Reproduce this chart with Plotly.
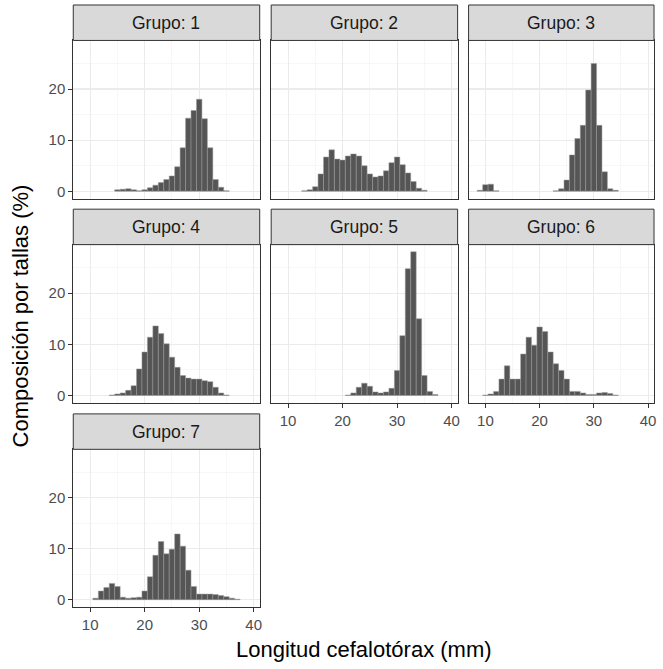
import plotly.graph_objects as go

# Bin centres (mm), 1 mm bins
tallas = [9, 10, 11, 12, 13, 14, 15, 16, 17, 18, 19, 20, 21, 22, 23,
          24, 25, 26, 27, 28, 29, 30, 31, 32, 33, 34, 35, 36, 37, 38]

grupo_1 = [0, 0, 0, 0, 0, 0, 0.3, 0.4, 0.5, 0.3, 0.1, 0.3, 0.7, 1.2, 1.7,
           2.3, 3.0, 4.8, 8.5, 14.3, 15.8, 18.0, 14.2, 8.5, 2.3, 0.8, 0.1, 0, 0, 0]
grupo_2 = [0, 0, 0, 0, 0.1, 0.3, 0.9, 3.4, 6.7, 8.1, 6.3, 6.1, 6.9, 7.3, 6.9,
           5.0, 3.4, 2.8, 3.0, 4.0, 5.6, 6.7, 5.2, 3.6, 1.9, 0.6, 0.2, 0, 0, 0]
grupo_3 = [0.2, 1.3, 1.4, 0.1, 0, 0, 0, 0, 0, 0, 0, 0, 0, 0, 0.1,
           0.5, 2.2, 7.1, 10.3, 12.9, 19.8, 25.0, 12.9, 3.8, 0.5, 0.2, 0, 0, 0, 0]
grupo_4 = [0, 0, 0, 0, 0, 0.1, 0.3, 0.5, 1.0, 1.9, 5.2, 8.5, 11.4, 13.6, 12.1,
           10.1, 7.5, 5.5, 3.9, 3.4, 3.2, 3.2, 2.9, 2.7, 1.6, 0.5, 0.1, 0, 0, 0]
grupo_5 = [0, 0, 0, 0, 0, 0, 0, 0, 0, 0, 0, 0, 0.1, 0.5, 1.6,
           2.4, 1.8, 0.7, 0.5, 0.7, 1.4, 4.9, 11.7, 24.8, 28.1, 15.0, 3.9, 0.8, 0.2, 0]
grupo_6 = [0, 0.1, 0.3, 0.8, 3.2, 5.8, 3.2, 3.2, 8.1, 11.4, 9.8, 13.4, 12.5, 8.5, 6.2,
           4.9, 3.2, 0.8, 0.8, 0.5, 0.2, 0.2, 0.5, 0.6, 0.4, 0.1, 0, 0, 0, 0]
grupo_7 = [0, 0, 0.3, 1.7, 2.4, 3.2, 2.6, 0.5, 0.3, 0.4, 0.5, 1.7, 4.5, 8.7, 11.4,
           9.0, 9.9, 12.9, 10.5, 5.8, 2.6, 1.1, 1.1, 1.1, 1.0, 0.8, 0.6, 0.3, 0.1, 0]

grupos = ["Grupo: 1", "Grupo: 2", "Grupo: 3", "Grupo: 4",
          "Grupo: 5", "Grupo: 6", "Grupo: 7"]
series = [grupo_1, grupo_2, grupo_3, grupo_4, grupo_5, grupo_6, grupo_7]

x_ticks = [10, 20, 30, 40]
y_ticks = [0, 10, 20]

W, H = 663, 669
FONT = "Liberation Sans, Arial, Helvetica, sans-serif"

col_px = [(73.5, 260.5), (272, 459), (470, 656)]
row_px = [(40.5, 199), (245, 403.5), (450, 608)]
strip_h = 35.5
positions = [(0, 0), (0, 1), (0, 2), (1, 0), (1, 1), (1, 2), (2, 0)]
show_x = {4, 5, 6}
show_y = {0, 3, 6}

fig = go.Figure()
shapes = []
annotations = []
layout_axes = {}

for i, (name, vals) in enumerate(zip(grupos, series)):
    r, c = positions[i]
    k = "" if i == 0 else str(i + 1)
    xs = [t for t, v in zip(tallas, vals) if v > 0]
    ys = [v for v in vals if v > 0]
    fig.add_trace(go.Bar(
        x=xs, y=ys, width=1,
        marker=dict(color="#555555", line=dict(color="#9a9a9a", width=0.5)),
        xaxis="x" + k, yaxis="y" + k, showlegend=False,
        hovertemplate="%{x} mm: %{y}%<extra>" + name + "</extra>"))

    x0, x1 = col_px[c]
    y0, y1 = row_px[r]
    layout_axes["xaxis" + k] = dict(
        domain=[x0 / W, x1 / W], range=[6.9, 41.1], anchor="y" + k,
        tickvals=x_ticks, showgrid=True, gridcolor="#EBEBEB", gridwidth=1.1,
        minor=dict(tickvals=[15, 25, 35], showgrid=True, gridcolor="#F2F2F2", gridwidth=0.6),
        showline=True, mirror=True, linecolor="#333333", linewidth=1,
        zeroline=False, showticklabels=(i in show_x),
        ticks="outside" if i in show_x else "", ticklen=4, tickcolor="#333333",
        tickfont=dict(family=FONT, size=15, color="#4D4D4D"), fixedrange=True)
    layout_axes["yaxis" + k] = dict(
        domain=[1 - y1 / H, 1 - y0 / H], range=[-1.45, 29.5], anchor="x" + k,
        tickvals=y_ticks, showgrid=True, gridcolor="#EBEBEB", gridwidth=1.1,
        minor=dict(tickvals=[5, 15, 25], showgrid=True, gridcolor="#F2F2F2", gridwidth=0.6),
        showline=True, mirror=True, linecolor="#333333", linewidth=1,
        zeroline=False, showticklabels=(i in show_y),
        ticks="outside" if i in show_y else "", ticklen=4, tickcolor="#333333",
        tickfont=dict(family=FONT, size=15, color="#4D4D4D"), fixedrange=True)

    # strip
    shapes.append(dict(type="rect", xref="paper", yref="paper",
                       x0=x0 / W, x1=x1 / W,
                       y0=1 - y0 / H, y1=1 - (y0 - strip_h) / H,
                       fillcolor="#D9D9D9", line=dict(color="#333333", width=1),
                       layer="above"))
    annotations.append(dict(text=name, xref="paper", yref="paper",
                            x=(x0 + x1) / 2 / W, y=1 - (y0 - strip_h / 2) / H,
                            showarrow=False, xanchor="center", yanchor="middle",
                            font=dict(family=FONT, size=17.5, color="#1A1A1A")))

annotations.append(dict(text="Longitud cefalotórax (mm)", xref="paper", yref="paper",
                        x=(73.5 + 656) / 2 / W, y=1 - 650 / H, showarrow=False,
                        xanchor="center", yanchor="middle",
                        font=dict(family=FONT, size=22, color="#000000")))
annotations.append(dict(text="Composición por tallas (%)", xref="paper", yref="paper",
                        x=21 / W, y=1 - 316 / H, showarrow=False, textangle=-90,
                        xanchor="center", yanchor="middle",
                        font=dict(family=FONT, size=22, color="#000000")))

fig.update_layout(
    width=W, height=H, margin=dict(l=0, r=0, t=0, b=0),
    paper_bgcolor="white", plot_bgcolor="white",
    bargap=0, shapes=shapes, annotations=annotations,
    font=dict(family=FONT), **layout_axes)

fig.write_html("out.html",
               config={"displayModeBar": False, "staticPlot": True},
               post_script="document.body.style.margin='0px';document.body.style.overflow='hidden';")
